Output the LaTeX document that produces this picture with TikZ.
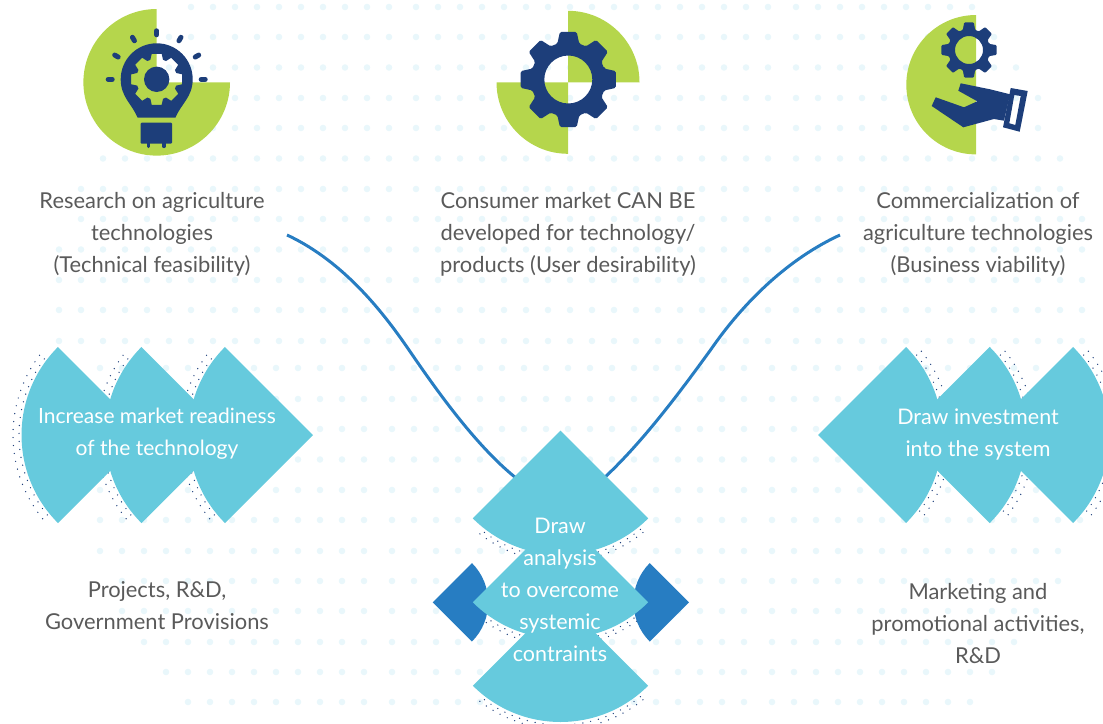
\documentclass[tikz,border=0pt]{standalone}
\usepackage{fontspec}
\setmainfont{Lato}
\definecolor{dotc}{HTML}{E9F7FB}
\definecolor{leaf}{HTML}{B5D64C}
\definecolor{navy}{HTML}{1D3E7A}
\definecolor{teal}{HTML}{66CADD}
\definecolor{azure}{HTML}{277DC2}
\definecolor{ink}{HTML}{5A5A5A}
\tikzset{
  label/.style={align=center,text=ink,font=\fontsize{21.9}{32}\selectfont,inner sep=0pt},
  wlabel/.style={align=center,text=white,font=\fontsize{21.5}{32}\selectfont,inner sep=0pt},
  curve/.style={draw=azure,line width=3pt},
  rim/.style={draw=navy,line width=1.4pt,line cap=round,dash pattern=on 0pt off 8pt},
}
% panel of dots: origin x, list of rows y/first column/last column
\newcommand\dotpanel[2]{\foreach \yy/\ss/\ee in {#2}{\foreach \kk in {\ss,...,\ee}{\fill[dotc] ({#1+22*\kk},\yy) circle[radius=3.3pt];}}}
% quarter sector: apex x, apex y, direction, radius
\newcommand\sector[4]{(#1,#2) -- ([shift={(#1,#2)}]{#3-45}:#4) arc[start angle={#3-45},end angle={#3+45},radius=#4] -- cycle}
\newcommand\rimarc[4]{\draw[rim] ([shift={(#1,#2)}]{#3-39}:#4) arc[start angle={#3-39},end angle={#3+39},radius=#4];}
\newcommand\gearpath[6]{([shift={(#1,#2)}]-#5:#3) \foreach \a in {0,45,...,315}{ -- ([shift={(#1,#2)}]{\a-#6}:#4) -- ([shift={(#1,#2)}]{\a+#6}:#4) -- ([shift={(#1,#2)}]{\a+#5}:#3) -- ([shift={(#1,#2)}]{\a+45-#5}:#3)} -- cycle}
\begin{document}
\begin{tikzpicture}[x=1pt,y=-1pt]
\useasboundingbox (0,0) rectangle (1103,723);
% background dots
\dotpanel{59}{7/6/15,37/5/15,67.5/5/15,98/4/15,128/3/15,158.5/2/15,189/1/15,219/1/15,249.5/0/15,280/0/15,310/0/15,341/0/15}
\dotpanel{416}{7/0/16,37/0/16,67.5/0/16,98/0/16,128/0/16,158.5/0/16,189/0/16,219/0/16,249.5/0/16,280/0/16,310/0/16,341/0/16}
\dotpanel{796}{7/0/8,37/0/9,67.5/0/10,98/0/11,128/0/11,158.5/0/12,189/0/12,219/0/13,249.5/0/13,280/0/13,310/0/13,341/0/13}
\dotpanel{56}{368/2/14,399/2/14,429/2/14,459.5/2/14,490/2/14,520/2/14,551/2/14,581/3/14,611/3/14,642/4/14,672/5/14,702/6/14}
\dotpanel{392}{368/0/16,399/0/16,429/0/16,459.5/0/16,490/0/16,520/0/16,551/0/16,581/0/16,611/0/16,642/0/16,672/0/16,702/0/16}
\dotpanel{772}{368/0/14,399/0/14,429/0/14,459.5/0/14,490/0/14,520/0/14,551/0/13,581/0/13,611/0/12,642/0/11,672/0/10,702/0/9}
% icon 1: bulb
\fill[leaf] (156.7,82.3) -- (230,82.3) arc[start angle=0,end angle=270,radius=73.3] -- cycle;
\fill[navy,even odd rule] (137.5,117.5) .. controls (132,104) and (120.7,97) .. (120.7,79.3) .. controls (120.7,59.4) and (136.8,43.3) .. (156.7,43.3) .. controls (176.6,43.3) and (192.7,59.4) .. (192.7,79.3) .. controls (192.7,97) and (181,104) .. (175.5,117.5) -- cycle \gearpath{156.7}{79.3}{20.5}{26}{18}{11};
\fill[navy] (156.7,79.3) circle[radius=12.7];
\fill[navy,rounded corners=1pt] (140.7,122.7) rectangle (172,143.7);
\draw[navy,line width=3.2pt,line cap=round] (148.3,142) -- (148.3,146.5) (164,142) -- (164,146.5);
\foreach \r in {-180,-150,-120,-90,-60,-30,0}{\draw[navy,line width=5pt,line cap=round] ([shift={(156.7,79.3)}]\r:44.5) -- ([shift={(156.7,79.3)}]\r:48.5);}
% icon 2: gear
\fill[leaf] (568,82.3) -- (568,10.8) arc[start angle=-90,end angle=0,radius=71.5] -- cycle;
\fill[leaf] (568,82.3) -- (568,153.8) arc[start angle=90,end angle=180,radius=71.5] -- cycle;
\fill[navy,even odd rule,rounded corners=1.5pt] \gearpath{568.3}{79.5}{37.5}{48.3}{17}{10} (568.3,79.5) circle[radius=24];
% icon 3: hand
\fill[leaf] (976,84.7) -- (976,154.4) arc[start angle=90,end angle=270,radius=69.7] -- cycle;
\fill[navy,even odd rule,rounded corners=1pt] \gearpath{969}{50}{21}{28}{17}{10} (969,50) circle[radius=14];
\fill[navy] (931.7,106) -- (935.7,97.3) -- (964,107.3) -- (977.3,101.3) -- (958.3,90.7) -- (960.7,83.3) -- (990,89.3) -- (1010,94.3) -- (1004,120.7) -- (994,119) -- (963.3,127.3) -- cycle;
\fill[navy,even odd rule] (1010.7,88) -- (1027.7,91) -- (1019.7,131.7) -- (1003,127.3) -- cycle (1014.3,95) -- (1020.7,96) -- (1015.3,125) -- (1009.3,123.3) -- cycle;
% connectors
\coordinate (lstart) at (287,235);
\coordinate (lmid) at (409,350);
\coordinate (lend) at (516,478);
\coordinate (rstart) at (840,235);
\coordinate (rmid) at (710.5,350);
\coordinate (rend) at (604,478);
\draw[curve] (lstart) .. controls (345,262) and (385,315) .. (lmid) .. controls (435,388) and (475,445) .. (lend);
\draw[curve] (rstart) .. controls (790,258) and (745,300) .. (rmid) .. controls (685,385) and (645,440) .. (rend);
% dotted rims
\foreach \ax in {146,229.5,313}{\rimarc{\ax}{435}{180}{127}\rimarc{\ax}{435}{180}{133}}
\foreach \ax in {818,901.7,985}{\rimarc{\ax}{435}{0}{127}\rimarc{\ax}{435}{0}{133}}
\foreach \ay in {430.7,514.6,598}{\rimarc{560.5}{\ay}{90}{127}\rimarc{560.5}{\ay}{90}{131}}
% side sectors and fans
\fill[azure] \sector{432.7}{602.3}{0}{55.5};
\fill[azure] \sector{689}{602.3}{180}{55.5};
\foreach \ax in {146,229.5,313}{\fill[teal] \sector{\ax}{435}{180}{124.5};}
\foreach \ax in {818,901.7,985}{\fill[teal] \sector{\ax}{435}{0}{124.5};}
\foreach \ay in {430.7,514.6,598}{\fill[teal] \sector{560.5}{\ay}{90}{124};}
% labels
\node[label] (research) at (152,234) {Research on agriculture\\technologies\\(Technical feasibility)};
\node[label] (consumer) at (568,234) {Consumer market CAN BE\\developed for technology/\\products (User desirability)};
\node[label] (commerce) at (978,234) {Commercialization of\\agriculture technologies\\(Business viability)};
\node[wlabel,font=\fontsize{21}{32}\selectfont] (increase) at (157,434) {Increase market readiness\\of the technology};
\node[wlabel] (invest) at (978,434) {Draw investment\\into the system};
\node[wlabel] (analysis) at (560,590) {Draw\\analysis\\to overcome\\systemic\\contraints};
\node[label] (projects) at (157,606) {Projects, R\&D,\\Government Provisions};
\node[label] (marketing) at (978,624) {Marketing and\\promotional activities,\\R\&D};
\end{tikzpicture}
\end{document}
